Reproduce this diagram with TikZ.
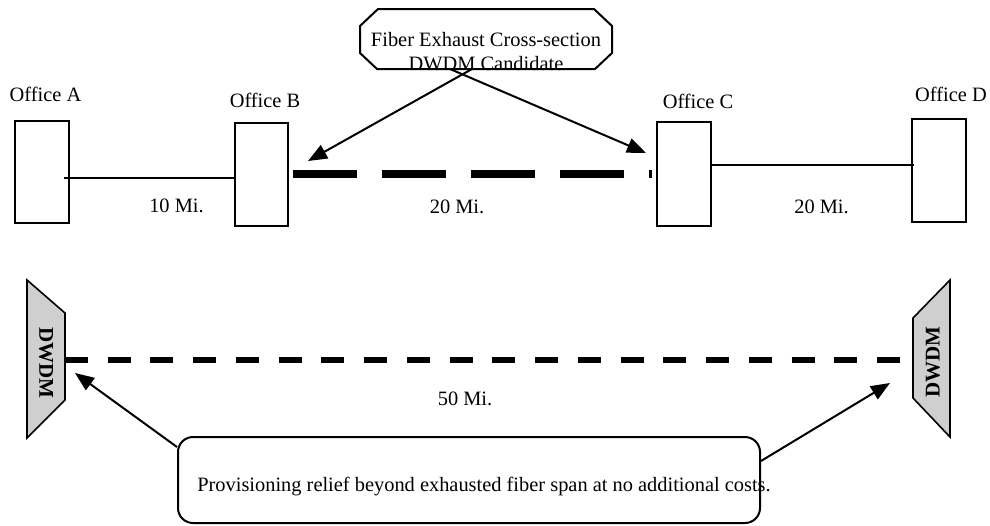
\documentclass[tikz,border=0pt]{standalone}
\usepackage{fontspec}
\setmainfont{Liberation Serif}
\usetikzlibrary{arrows.meta}
\begin{document}
\begin{tikzpicture}[x=1pt,y=-1pt,
  office/.style={draw, line width=2pt, minimum width=54pt, minimum height=103pt, inner sep=0pt},
  lbl/.style={font=\fontsize{20.4}{22}\selectfont, anchor=base, inner sep=0pt},
  link/.style={line width=2pt},
  arr/.style={line width=2pt, -{Triangle[length=19pt,width=15pt]}},
  bigdash/.style={line width=8pt, dash pattern=on 64pt off 25pt},
  smalldash/.style={line width=6pt, dash pattern=on 23pt off 19.74pt},
  dwdmshape/.style={draw, line width=1.6pt, fill=gray!38},
  dwdmtext/.style={font=\bfseries\fontsize{21}{23}\selectfont, inner sep=0pt}]
\useasboundingbox (0,0) rectangle (990,525);

% offices
\node[office, minimum height=102pt] (A) at (42,172) {};
\node[office, minimum width=53pt] (B) at (261.5,174.5) {};
\node[office, minimum height=104pt] (C) at (684,174) {};
\node[office] (D) at (939,170.5) {};

\node[lbl] (la) at (45.5,101) {Office A};
\node[lbl] (lb) at (265,107) {Office B};
\node[lbl] (lc) at (698,108) {Office C};
\node[lbl] (ld) at (951,101) {Office D};

% links
\draw[link] ([xshift=-6pt,yshift=-6pt]A.east) -- ([yshift=-3.5pt]B.west);
\draw[link] ([yshift=9pt]C.east) -- ([xshift=3pt,yshift=5.5pt]D.west);
\draw[bigdash] ([xshift=4pt,yshift=0.5pt]B.east) -- ([xshift=-4pt]C.west);

\node[lbl] (m10) at (176.5,212) {10 Mi.};
\node[lbl] (m20a) at (457,213) {20 Mi.};
\node[lbl] (m20b) at (821.5,213) {20 Mi.};

% top octagon callout
\draw[line width=2pt] (378,9) -- (594,9) -- (612,26) -- (612,53) -- (595,69)
  -- (377,69) -- (360,53) -- (360,26) -- cycle;
\node[lbl] (fx1) at (486,46) {Fiber Exhaust Cross-section};
\node[lbl] (fx2) at (486,70) {DWDM Candidate};
\coordinate (s1) at (472,69);
\coordinate (s2) at (450,69);
\coordinate (t1) at (308,161);
\coordinate (t2) at (646,153);
\draw[arr] (s1) -- (t1);
\draw[arr] (s2) -- (t2);

% DWDM terminals
\draw[dwdmshape] (27,280) -- (65,313) -- (65,400) -- (27,438) -- cycle;
\draw[dwdmshape] (950,280) -- (913,318) -- (913,398) -- (950,437) -- cycle;
\node[dwdmtext, rotate=-90] (dl) at (46,363) {DWDM};
\node[dwdmtext, rotate=90] (dr) at (933,362) {DWDM};
\coordinate (dle) at (65,360);
\coordinate (dre) at (900,360);
\draw[smalldash] (dle) -- (dre);
\node[lbl] (m50) at (465,405) {50 Mi.};

% bottom callout
\node[draw, rounded corners=15pt, line width=2pt, minimum width=582pt,
      minimum height=86pt, inner sep=0pt] (prov) at (469,480) {};
\node[lbl] (provtext) at (484,491) {Provisioning relief beyond exhausted fiber span at no additional costs.};
\coordinate (b1) at (75,373);
\coordinate (b2) at (890,383);
\draw[arr] ([yshift=-11pt]prov.north west) -- (b1);
\draw[arr] ([yshift=-25pt]prov.north east) -- (b2);
\end{tikzpicture}
\end{document}
